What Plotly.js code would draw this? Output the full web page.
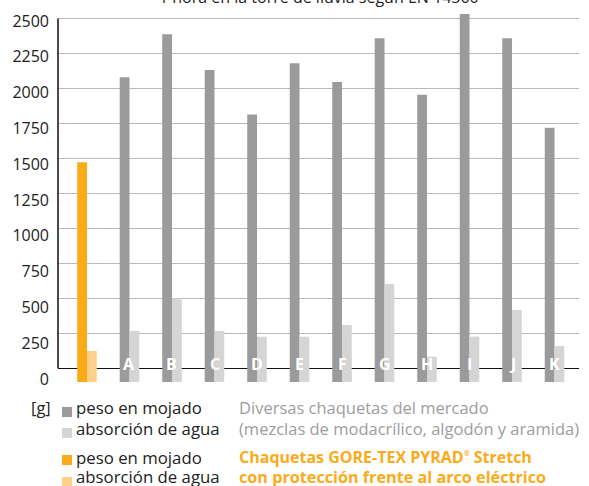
<!DOCTYPE html>
<html>
<head>
<meta charset="utf-8">
<script src="https://cdn.plot.ly/plotly-3.0.1.min.js"></script>
<style>html,body{margin:0;padding:0;background:#fff;}#chart{width:589px;height:486px;}</style>
</head>
<body>
<div id="chart"></div>
<script>
// ---- data ----
const categories = ["GORE-TEX PYRAD", "A", "B", "C", "D", "E", "F", "G", "H", "I", "J", "K"];
const barLetters = ["", "A", "B", "C", "D", "E", "F", "G", "H", "I", "J", "K"];
const pesoMojado = [1472, 2080, 2387, 2132, 1815, 2180, 2046, 2359, 1956, 2532, 2359, 1720];
const absorcionAgua = [124, 267, 500, 267, 226, 226, 310, 603, 83, 226, 417, 159];
const yTicks = [0, 250, 500, 750, 1000, 1250, 1500, 1750, 2000, 2250, 2500];
const titleText = "1 hora en la torre de lluvia según EN 14360";

// ---- styles ----
const FONT = "Open Sans, Noto Sans, sans-serif";
const GREY = "#9b9b9b", LGREY = "#d5d5d5", ORANGE = "#fbab18", LORANGE = "#fed18a";
const wetColors = categories.map((c, i) => i === 0 ? ORANGE : GREY);
const absColors = categories.map((c, i) => i === 0 ? LORANGE : LGREY);

const Y_MIN = -98, Y_MAX = 2554;
const BASE = Y_MIN; // bars start at bottom of plot area

const W = 589, H = 486, ML = 58, MR = 10, MT = 11, MB = 104;
const PW = W - ML - MR, PH = H - MT - MB;
const px = p => (p - ML) / PW;
const py = p => (H - MB - p) / PH;

const traces = [
  {type: "bar", name: "peso en mojado", x: categories, y: pesoMojado.map(v => v - BASE), base: BASE,
   marker: {color: wetColors}, hoverinfo: "skip"},
  {type: "bar", name: "absorción de agua", x: categories, y: absorcionAgua.map(v => v - BASE), base: BASE,
   marker: {color: absColors}, hoverinfo: "skip"},
  {type: "scatter", x: [], y: [], yaxis: "y2", showlegend: false, hoverinfo: "skip"}
];

const annotations = [];
categories.forEach((c, i) => {
  if (barLetters[i]) annotations.push({x: c, y: 0, xref: "x", yref: "y", text: barLetters[i], showarrow: false,
    xanchor: "center", yanchor: "middle", yshift: 4, font: {family: FONT, size: 16, color: "#ffffff", weight: 700}});
});
function txt(text, xl, cy, color, size, bold) {
  annotations.push({xref: "paper", yref: "paper", x: px(xl), y: py(cy), text: text, showarrow: false,
    xanchor: "left", yanchor: "middle", font: {family: FONT, size: size, color: color, weight: bold ? 700 : 400}});
}
annotations.push({xref: "paper", yref: "paper", x: px(319), y: py(-3), text: titleText, showarrow: false,
  xanchor: "center", yanchor: "middle", font: {family: FONT, size: 16, color: "#222"}});
txt("[g]", 29, 407, "#222", 16.5, false);
txt("peso en mojado", 74, 407, "#222", 16.8, false);
txt("absorción de agua", 74, 428, "#222", 16.8, false);
txt("peso en mojado", 74, 457, "#222", 16.8, false);
txt("absorción de agua", 74, 477, "#222", 16.8, false);
txt("Diversas chaquetas del mercado", 237, 407, "#9d9d9d", 16.5, false);
txt("(mezclas de modacrílico, algodón y aramida)", 237, 428, "#9d9d9d", 16.5, false);
txt("Chaquetas GORE-TEX PYRAD<sup><span style='font-size:7px'>®</span></sup> Stretch", 237, 457, ORANGE, 16, true);
txt("con protección frente al arco eléctrico", 237, 477, ORANGE, 16.2, true);

function sq(y0, color) {
  return {type: "rect", xref: "paper", yref: "paper", x0: px(62), x1: px(72), y0: py(y0), y1: py(y0 + 10),
    fillcolor: color, line: {width: 0}};
}
const shapes = [
  {type: "line", xref: "paper", yref: "y", x0: 0, x1: 0, y0: 0, y1: yTicks[yTicks.length - 1],
   line: {color: "#111", width: 1.5}},
  sq(407, GREY), sq(428, LGREY), sq(455, ORANGE), sq(477, LORANGE)
];

const layout = {
  width: W, height: H,
  margin: {l: ML, r: MR, t: MT, b: MB, pad: 0},
  paper_bgcolor: "#fff", plot_bgcolor: "#fff",
  showlegend: false,
  barmode: "group", bargap: 0.54, bargroupgap: 0,
  font: {family: FONT, size: 16, color: "#222"},
  xaxis: {type: "category", range: [-0.682, 11.576], showticklabels: false, showgrid: false,
    zeroline: false, showline: false, ticks: ""},
  yaxis: {range: [Y_MIN, Y_MAX], tickvals: yTicks, showticklabels: false, showgrid: true,
    gridcolor: "#b9b9b9", gridwidth: 1.5, zeroline: true, zerolinecolor: "#111", zerolinewidth: 1.5,
    showline: false, ticks: ""},
  yaxis2: {overlaying: "y", side: "left", range: [-20.95, 2569.8], tickvals: yTicks,
    ticktext: yTicks.map(String), showgrid: false, zeroline: false, showline: false, ticks: "",
    ticklabelstandoff: 8, tickfont: {family: FONT, size: 16, color: "#222"}},
  annotations: annotations,
  shapes: shapes
};

Plotly.newPlot("chart", traces, layout, {displayModeBar: false, staticPlot: true});
</script>
</body>
</html>
